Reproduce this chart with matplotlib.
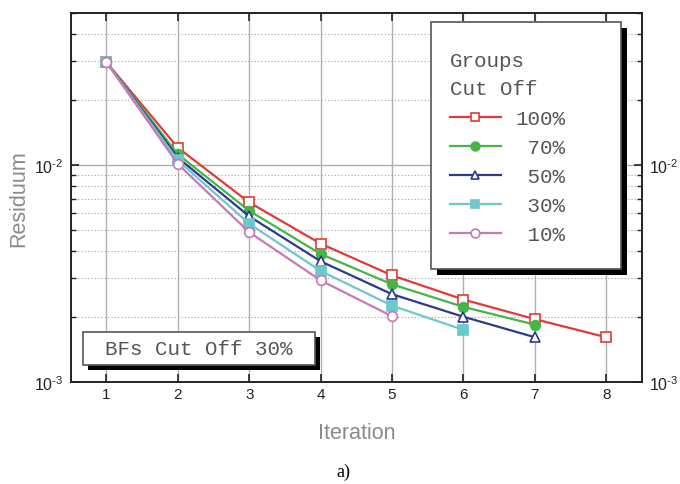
import matplotlib
matplotlib.use("Agg")
import matplotlib.pyplot as plt
from matplotlib.patches import Rectangle
from matplotlib.ticker import LogLocator, FixedLocator, NullFormatter

plt.rcParams['font.family'] = ['Liberation Sans', 'DejaVu Sans']
plt.rcParams['mathtext.fontset'] = 'custom'
plt.rcParams['mathtext.rm'] = 'Liberation Sans'
plt.rcParams['mathtext.it'] = 'Liberation Sans:italic'

# data
iterations = [1, 2, 3, 4, 5, 6, 7, 8]
res_100 = [0.0297, 0.0120, 0.00672, 0.00434, 0.00310, 0.00240, 0.00195, 0.00161]
res_70 = [0.0297, 0.0112, 0.00615, 0.00389, 0.00282, 0.00222, 0.00184]
res_50 = [0.0297, 0.0108, 0.00580, 0.00360, 0.00254, 0.00200, 0.00161]
res_30 = [0.0297, 0.0105, 0.00536, 0.00325, 0.00225, 0.00174]
res_10 = [0.0297, 0.0101, 0.00490, 0.00294, 0.00201]

labels = ['100%', ' 70%', ' 50%', ' 30%', ' 10%']
series = [res_100, res_70, res_50, res_30, res_10]
colors = ['#e03a3a', '#45b545', '#2a3a8c', '#6cc8cc', '#c878b8']
markers = ['s', 'o', '^', 's', 'o']
filled = [False, True, False, True, False]

fig = plt.figure(figsize=(6.8, 4.85), dpi=100)
ax = fig.add_axes([0.104, 0.210, 0.840, 0.761])

for ys, lab, c, m, f in zip(series, labels, colors, markers, filled):
    ax.plot(iterations[:len(ys)], ys, color=c, lw=1.6, marker=m, markersize=7,
            markerfacecolor=c if f else 'white', markeredgecolor=c,
            markeredgewidth=1.2, label=lab, zorder=3)

ax.set_yscale('log')
ax.set_xlim(0.5, 8.5)
ax.set_ylim(1e-3, 5e-2)
ax.set_xticks(iterations)
ax.yaxis.set_major_locator(FixedLocator([1e-3, 1e-2]))
ax.yaxis.set_minor_locator(LogLocator(base=10, subs=range(2, 10)))
ax.yaxis.set_minor_formatter(NullFormatter())
ax.set_yticklabels([r'$10^{\text{-}3}$', r'$10^{\text{-}2}$'])

ax.grid(True, which='major', color='#b0b0b0', lw=1.0, ls='-', zorder=0)
ax.grid(True, which='minor', axis='y', color='#a0a0a0', lw=0.8, ls=(0, (1, 2)), zorder=0)

ax.tick_params(which='both', direction='in', top=True, right=True,
               labelright=True, colors='#222222', labelsize=11)
ax.tick_params(axis='y', labelsize=11.5, pad=5)
ax.tick_params(which='major', length=6, width=1.2)
ax.tick_params(which='minor', length=3.5, width=1.0)
for s in ax.spines.values():
    s.set_linewidth(1.4)
    s.set_color('#222222')

ax.set_xlabel('Iteration', fontsize=15.5, color='#8a8a8a', labelpad=15)
ax.set_ylabel('Residuum', fontsize=15.5, color='#8a8a8a')
ax.yaxis.set_label_coords(-0.072, 0.5)

mono = {'family': ['Liberation Mono', 'DejaVu Sans Mono'], 'size': 15}

# legend box with hard black shadow
ax.add_patch(Rectangle((0.641, 0.290), 0.333, 0.670, transform=ax.transAxes,
                       facecolor='black', edgecolor='none', zorder=4))
ax.add_patch(Rectangle((0.630, 0.306), 0.333, 0.670, transform=ax.transAxes,
                       facecolor='white', edgecolor='#555555', lw=1.2, zorder=4.5))
leg = ax.legend(loc='upper left', bbox_to_anchor=(0.645, 0.925), frameon=False,
                title='Groups\nCut Off', alignment='left', prop=mono,
                title_fontproperties=mono, handlelength=2.45,
                handletextpad=0.7, labelspacing=0.48, borderpad=0,
                markerscale=0.9)
leg.set_zorder(5)
leg.get_title().set_color('#555555')
leg.get_title().set_linespacing(1.6)
leg._legend_box.sep = 8
for t in leg.get_texts():
    t.set_color('#555555')

# BFs cut off box with shadow
ax.add_patch(Rectangle((0.031, 0.032), 0.406, 0.090, transform=ax.transAxes,
                       facecolor='black', edgecolor='none', zorder=4))
ax.add_patch(Rectangle((0.021, 0.046), 0.406, 0.090, transform=ax.transAxes,
                       facecolor='white', edgecolor='#555555', lw=1.2, zorder=4.5))
ax.text(0.2245, 0.091, 'BFs Cut Off 30%', transform=ax.transAxes, ha='center',
        va='center', color='#555555', zorder=5, fontdict=mono)

fig.text(0.505, 0.027, 'a)', ha='center', va='center', fontsize=13,
         family=['Liberation Serif', 'DejaVu Serif'], color='black')

fig.savefig('out.png', dpi=100)
